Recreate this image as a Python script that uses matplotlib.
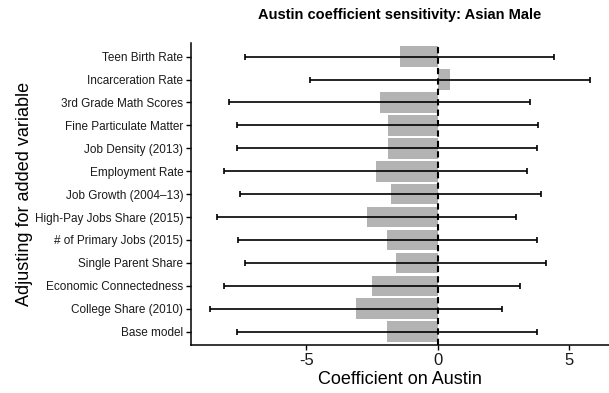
import numpy as np
import matplotlib
matplotlib.use("Agg")
import matplotlib.pyplot as plt

plt.rcParams['font.family'] = ['Liberation Sans', 'DejaVu Sans']

# rows, top to bottom
labels = ["Teen Birth Rate", "Incarceration Rate", "3rd Grade Math Scores",
          "Fine Particulate Matter", "Job Density (2013)", "Employment Rate",
          "Job Growth (2004\u201313)", "High-Pay Jobs Share (2015)",
          "# of Primary Jobs (2015)", "Single Parent Share",
          "Economic Connectedness", "College Share (2010)", "Base model"]
coef = [-1.45, 0.47, -2.21, -1.91, -1.91, -2.37, -1.79, -2.69, -1.92, -1.60, -2.50, -3.10, -1.92]
ci_low = [-7.32, -4.85, -7.93, -7.63, -7.63, -8.13, -7.52, -8.41, -7.61, -7.35, -8.13, -8.67, -7.63]
ci_high = [4.42, 5.78, 3.51, 3.80, 3.78, 3.37, 3.93, 2.98, 3.76, 4.10, 3.13, 2.44, 3.78]

coef = np.array(coef)
ci_low = np.array(ci_low)
ci_high = np.array(ci_high)
n = len(labels)
ypos = np.arange(n)[::-1]

fig = plt.figure(figsize=(6.09, 3.93), dpi=100)
ax = fig.add_axes([0.3136, 0.121, 0.6864, 0.77])

ax.barh(ypos, coef, height=0.9, color='#b3b3b3', zorder=1)
ax.errorbar(coef, ypos, xerr=[coef - ci_low, ci_high - coef], fmt='none',
            ecolor='black', elinewidth=1.2, capsize=2.5, capthick=1.2, zorder=2)
ax.axvline(0, color='black', linestyle=(0, (3, 2)), linewidth=1.5, zorder=3)

lo = min(ci_low.min(), coef.min())
hi = max(ci_high.max(), coef.max())
pad = 0.05 * (hi - lo)
ax.set_xlim(lo - pad, hi + pad)
ax.set_ylim(-0.6, n - 1 + 0.6)

ax.set_yticks(ypos)
ax.set_yticklabels(labels, fontsize=8.5, color='#1a1a1a')
ax.set_xticks([-5, 0, 5])
ax.set_xticklabels(['-5', '0', '5'], fontsize=12, color='#1a1a1a')
ax.tick_params(axis='both', length=3.5, width=1, color='black', pad=2)

for s in ['top', 'right']:
    ax.spines[s].set_visible(False)
for s in ['left', 'bottom']:
    ax.spines[s].set_linewidth(1.1)

ax.set_xlabel('Coefficient on Austin', fontsize=13, labelpad=2)
ax.set_ylabel('Adjusting for added variable', fontsize=13, labelpad=1)
ax.set_title('Austin coefficient sensitivity: Asian Male', fontsize=10.5,
             fontweight='bold', pad=17)

fig.savefig('out.png', dpi=100)
